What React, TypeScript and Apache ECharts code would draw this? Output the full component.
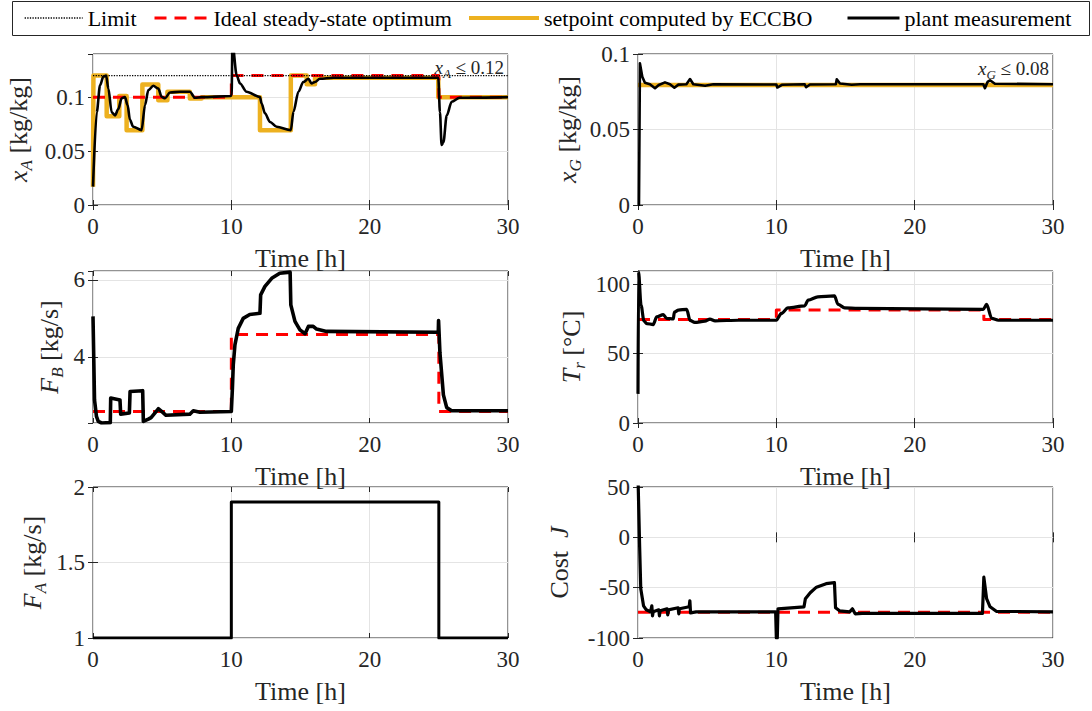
import React, { useEffect, useRef } from 'react';
import * as echarts from 'echarts';

// ---------------- data ----------------
const TIME_MIN = 0;
const TIME_MAX = 30;
const TIME_STEP = 10;

// x_A [kg/kg]
const xaLimit = [[0, 0.12], [30, 0.12]];
const xaIdeal = [[0, 0.1], [10, 0.12], [25, 0.1], [30, 0.1]];
const xaSetpoint = [
  [0, 0.017], [0.03, 0.12], [0.99, 0.0824], [1.9, 0.101], [2.43, 0.0694], [3.57, 0.1117],
  [4.72, 0.0972], [5.38, 0.105], [7.0, 0.0988], [7.85, 0.1], [12.07, 0.0694], [14.3, 0.12],
  [15.45, 0.112], [16.05, 0.118], [24.96, 0.1], [30, 0.1],
];
const xaPlant = [
  [0, 0.017], [0.27, 0.086], [0.51, 0.111], [0.75, 0.119], [0.95, 0.12], [1.11, 0.108],
  [1.35, 0.086], [1.59, 0.083], [1.83, 0.089], [2.07, 0.099], [2.31, 0.1], [2.5, 0.0926],
  [2.67, 0.079], [2.91, 0.0725], [3.51, 0.0694], [3.76, 0.0926], [4.0, 0.1065], [4.36, 0.1105],
  [4.72, 0.108], [4.96, 0.1003], [5.2, 0.099], [5.57, 0.1043], [6.29, 0.105], [7.0, 0.105],
  [7.37, 0.0994], [7.85, 0.1], [9.95, 0.101], [10.02, 0.102], [10.08, 0.15], [10.39, 0.12],
  [10.63, 0.1127], [11.1, 0.105], [12.07, 0.1], [12.19, 0.094], [12.43, 0.085], [12.8, 0.077],
  [13.28, 0.0725], [14.3, 0.0694], [14.49, 0.0864], [14.85, 0.105], [15.2, 0.114], [15.57, 0.117],
  [15.8, 0.1127], [16.05, 0.114], [16.4, 0.117], [17.4, 0.118], [24.96, 0.118], [25.08, 0.086],
  [25.2, 0.0556], [25.33, 0.058], [25.57, 0.083], [25.93, 0.0957], [26.5, 0.0994], [30, 0.1],
];

// x_G [kg/kg]
const xgSetpoint = [[0, 0.0795], [30, 0.0795]];
const xgPlant = [
  [0, 0], [0.07, 0], [0.14, 0.0938], [0.31, 0.085], [0.5, 0.081], [0.86, 0.08], [1.23, 0.0773],
  [1.5, 0.0795], [1.95, 0.0812], [2.31, 0.08], [2.63, 0.0777], [2.92, 0.0797], [3.5, 0.08],
  [3.76, 0.0834], [4.0, 0.08], [4.85, 0.079], [5.45, 0.08], [10.0, 0.0798], [10.07, 0.0778],
  [10.4, 0.0796], [12.05, 0.08], [12.15, 0.078], [12.43, 0.0798], [14.3, 0.08], [14.37, 0.0832],
  [14.6, 0.0805], [15.45, 0.0796], [16.05, 0.08], [24.96, 0.08], [25.08, 0.0774], [25.27, 0.0815],
  [25.45, 0.0826], [25.8, 0.0803], [30, 0.08],
];

// F_B [kg/s]
const fbIdeal = [[0, 2.58], [10, 4.58], [25, 2.58], [30, 2.58]];
const fbPlant = [
  [0, 5.05], [0.11, 2.88], [0.25, 2.45], [0.38, 2.32], [0.62, 2.28], [1.25, 2.29], [1.28, 2.93],
  [1.95, 2.88], [2.0, 2.51], [2.63, 2.54], [2.68, 3.1], [3.59, 3.12], [3.64, 2.32], [4.0, 2.38],
  [4.2, 2.42], [4.72, 2.65], [4.96, 2.58], [5.28, 2.48], [7.0, 2.51], [7.25, 2.6], [7.73, 2.56],
  [10.0, 2.58], [10.08, 3.2], [10.14, 3.79], [10.26, 4.31], [10.5, 4.74], [10.86, 5.0], [11.33, 5.1],
  [12.07, 5.13], [12.12, 5.61], [12.43, 5.83], [12.92, 6.04], [13.5, 6.17], [14.25, 6.2], [14.3, 5.35],
  [14.6, 4.92], [14.96, 4.7], [15.33, 4.6], [15.57, 4.79], [15.92, 4.79], [16.16, 4.72], [16.88, 4.66],
  [24.96, 4.64], [24.98, 4.94], [25.08, 4.1], [25.33, 3.01], [25.57, 2.68], [25.93, 2.6], [30, 2.6],
];

// T_r [°C]
const trIdeal = [[0, 74.6], [10, 81.4], [25, 74.6], [30, 74.6]];
const trPlant = [
  [0, 21], [0.04, 109], [0.22, 85], [0.43, 73.5], [0.63, 71.7], [1.1, 71], [1.35, 76.5], [1.83, 78.2],
  [2.07, 75.4], [2.55, 75], [2.63, 80], [2.92, 81.4], [3.52, 82], [3.76, 74], [4.1, 72.5], [4.84, 73.4],
  [5.2, 74.9], [5.57, 73.7], [7.25, 74.1], [10.0, 74.1], [10.36, 79], [10.84, 83], [12.05, 84.5],
  [12.3, 88.6], [13.0, 91], [14.2, 91.7], [14.46, 85.5], [14.94, 83], [15.9, 82.6], [24.96, 82],
  [25.2, 85.5], [25.57, 75.4], [26.05, 74.1], [30, 74.1],
];

// F_A [kg/s]
const faPlant = [[0, 1], [10, 1.9], [25, 1], [30, 1]];

// Cost J
const costIdeal = [[0, -74.5], [30, -74.5]];
const costPlant = [
  [0, 60], [0.12, -10], [0.2, -51], [0.4, -68], [0.6, -72], [0.9, -74], [1.0, -68], [1.05, -78],
  [1.1, -74], [1.5, -72], [1.55, -78], [1.6, -73], [2.1, -71], [2.15, -77], [2.2, -72], [2.9, -70],
  [2.95, -76], [3.0, -71], [3.7, -69], [3.75, -63], [3.8, -75], [4.2, -74], [9.95, -74], [10.0, -100],
  [10.07, -100], [10.12, -71], [12.0, -69], [12.1, -61], [12.45, -55], [12.9, -49.5], [13.6, -46],
  [14.2, -45], [14.28, -70], [14.57, -73], [15.3, -74], [15.5, -71], [15.7, -76], [16.2, -75.5],
  [24.9, -75.5], [25.0, -39.6], [25.2, -61], [25.45, -69], [25.9, -73.5], [30, -74],
];

const NAME_LIMIT = 'Limit';
const NAME_IDEAL = 'Ideal steady-state optimum';
const NAME_SET = 'setpoint computed by ECCBO';
const NAME_PLANT = 'plant measurement';

// ---------------- style ----------------
const FONT = "'Liberation Serif', 'Times New Roman', serif";
const AX = '#262626';
const GRIDC = '#e4e4e4';
const ORANGE = '#EDB120';
const RED = '#FF0000';
const DASH = [12, 8];

const panels = [
  { left: 93, top: 54, height: 151, ymin: 0, ymax: 0.14, yint: 0.05, split: 0, name: '{i|x}{s|A} [kg/kg]', gap: 58, hideMin: false, hideMax: true },
  { left: 638, top: 54, height: 151, ymin: 0, ymax: 0.1, yint: 0.05, split: 0, name: '{i|x}{s|G} [kg/kg]', gap: 54, hideMin: false, hideMax: false },
  { left: 93, top: 271, height: 152, ymin: 2.28, ymax: 6.23, yint: 0, split: 2, name: '{i|F}{s|B} [kg/s]', gap: 27, hideMin: true, hideMax: true },
  { left: 638, top: 271, height: 152, ymin: 0, ymax: 109.6, yint: 50, split: 0, name: '{i|T}{s|r} [°C]', gap: 50, hideMin: false, hideMax: true },
  { left: 93, top: 487, height: 151, ymin: 1, ymax: 2, yint: 0.5, split: 0, name: '{i|F}{s|A} [kg/s]', gap: 44, hideMin: false, hideMax: false },
  { left: 638, top: 487, height: 151, ymin: -100, ymax: 50, yint: 50, split: 0, name: 'Cost  {i|J}', gap: 62, hideMin: false, hideMax: false },
];
const PLOT_W = 415;

const nameRich = {
  i: { fontFamily: FONT, fontStyle: 'italic', fontSize: 26, color: AX, lineHeight: 34 },
  s: { fontFamily: FONT, fontStyle: 'italic', fontSize: 17, color: AX, lineHeight: 8, verticalAlign: 'bottom' },
};

function buildOption() {
  const grid: any[] = [];
  const xAxis: any[] = [];
  const yAxis: any[] = [];
  panels.forEach((p, g) => {
    grid.push({
      left: p.left, top: p.top, width: PLOT_W, height: p.height,
      show: true, borderColor: AX, borderWidth: 1, backgroundColor: 'transparent',
      containLabel: false, outerBoundsMode: 'none',
    });
    const tick = { show: true, inside: true, length: 5, lineStyle: { color: AX, width: 1 } };
    const yScale: any = p.yint ? { interval: p.yint } : { splitNumber: p.split };
    xAxis.push({
      type: 'value', gridIndex: g, position: 'bottom', min: TIME_MIN, max: TIME_MAX, interval: TIME_STEP,
      axisLine: { show: false }, axisTick: tick,
      axisLabel: { fontFamily: FONT, fontSize: 23, color: AX, margin: 10 },
      splitLine: { show: true, lineStyle: { color: GRIDC, width: 1 } },
      name: 'Time [h]', nameLocation: 'middle', nameGap: 40,
      nameTextStyle: { fontFamily: FONT, fontSize: 26, color: AX },
    });
    xAxis.push({
      type: 'value', gridIndex: g, position: 'top', min: TIME_MIN, max: TIME_MAX, interval: TIME_STEP,
      axisLine: { show: false }, axisTick: tick, axisLabel: { show: false }, splitLine: { show: false },
    });
    yAxis.push({
      type: 'value', gridIndex: g, position: 'left', min: p.ymin, max: p.ymax, ...yScale,
      axisLine: { show: false }, axisTick: tick,
      axisLabel: { fontFamily: FONT, fontSize: 23, color: AX, margin: 8, showMinLabel: !p.hideMin, showMaxLabel: !p.hideMax },
      splitLine: { show: true, lineStyle: { color: GRIDC, width: 1 } },
      name: p.name, nameLocation: 'middle', nameGap: p.gap,
      nameTextStyle: { fontFamily: FONT, fontSize: 26, color: AX, lineHeight: 34, rich: nameRich },
    });
    yAxis.push({
      type: 'value', gridIndex: g, position: 'right', min: p.ymin, max: p.ymax, ...yScale,
      axisLine: { show: false }, axisTick: tick, axisLabel: { show: false }, splitLine: { show: false },
    });
  });

  const line = (name: string, data: number[][], g: number, color: string, width: number, type: any = 'solid', step: any = false, z = 2, smooth: any = false) => ({
    type: 'line', name, data, xAxisIndex: 2 * g, yAxisIndex: 2 * g,
    symbol: 'none', showSymbol: false, step, z, silent: true, clip: true,
    smooth, smoothMonotone: 'x',
    lineStyle: { color, width, type, cap: 'butt', join: 'round' },
    itemStyle: { color },
  });

  const series = [
    line(NAME_PLANT, xaPlant, 0, '#000000', 2.6, 'solid', false, 4, 0.3),
    line(NAME_SET, xaSetpoint, 0, ORANGE, 4.5, 'solid', 'end', 2),
    line(NAME_IDEAL, xaIdeal, 0, RED, 3, DASH, 'end', 3),
    line(NAME_LIMIT, xaLimit, 0, '#000000', 1.3, 'dotted', false, 5),

    line(NAME_SET, xgSetpoint, 1, ORANGE, 4.5, 'solid', false, 2),
    line(NAME_PLANT, xgPlant, 1, '#000000', 2.6, 'solid', false, 4),

    line(NAME_IDEAL, fbIdeal, 2, RED, 3, DASH, 'end', 3),
    line(NAME_PLANT, fbPlant, 2, '#000000', 3.6, 'solid', false, 4),

    line(NAME_IDEAL, trIdeal, 3, RED, 3, DASH, 'end', 3),
    line(NAME_PLANT, trPlant, 3, '#000000', 3.2, 'solid', false, 4, 0.3),

    line(NAME_PLANT, faPlant, 4, '#000000', 3, 'solid', 'end', 4),

    line(NAME_IDEAL, costIdeal, 5, RED, 3, DASH, false, 3),
    line(NAME_PLANT, costPlant, 5, '#000000', 3.2, 'solid', false, 4),
  ];

  const legendBase = {
    top: 7, padding: 0, itemGap: 0, itemHeight: 14, selectedMode: false,
    itemStyle: { opacity: 0, color: 'transparent', borderColor: 'transparent', borderWidth: 0 },
    textStyle: { fontFamily: FONT, fontSize: 22, color: '#000000' },
  };
  const legend = [
    { ...legendBase, data: [NAME_LIMIT], left: 24, itemWidth: 58, lineStyle: { width: 1.3 } },
    { ...legendBase, data: [NAME_IDEAL], left: 153, itemWidth: 54, lineStyle: { width: 3 } },
    { ...legendBase, data: [NAME_SET], left: 467, itemWidth: 70, lineStyle: { width: 4 } },
    { ...legendBase, data: [NAME_PLANT], left: 846, itemWidth: 52, lineStyle: { width: 3 } },
  ];

  const annRich = {
    i: { fontFamily: FONT, fontStyle: 'italic', fontSize: 19, fill: AX, lineHeight: 26 },
    s: { fontFamily: FONT, fontStyle: 'italic', fontSize: 13, fill: AX, lineHeight: 6, verticalAlign: 'bottom' },
  };
  const graphic = [
    { type: 'rect', shape: { x: 12.5, y: 1.5, width: 1077, height: 34 }, style: { fill: 'none', stroke: AX, lineWidth: 1 }, z: 1 },
    { type: 'text', x: 504, y: 67, style: { text: '{i|x}{s|A} ≤ 0.12', rich: annRich, fontFamily: FONT, fontSize: 19, fill: AX, align: 'right', verticalAlign: 'middle' }, z: 10 },
    { type: 'text', x: 1049, y: 68, style: { text: '{i|x}{s|G} ≤ 0.08', rich: annRich, fontFamily: FONT, fontSize: 19, fill: AX, align: 'right', verticalAlign: 'middle' }, z: 10 },
  ];

  return { animation: false, backgroundColor: '#ffffff', grid, xAxis, yAxis, series, legend, graphic };
}

export default function App() {
  const ref = useRef<HTMLDivElement>(null);
  useEffect(() => {
    if (!ref.current) return;
    const chart = echarts.init(ref.current, undefined, { renderer: 'svg' });
    chart.setOption(buildOption() as any);
    return () => chart.dispose();
  }, []);
  return <div ref={ref} style={{ position: 'absolute', left: 0, top: 0, width: 1092, height: 711 }} />;
}
